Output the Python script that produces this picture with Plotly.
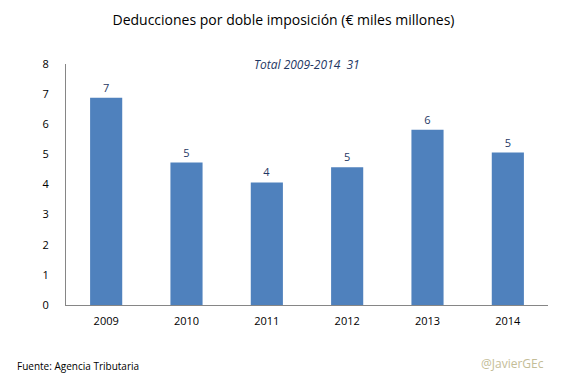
import plotly.graph_objects as go

years = ["2009", "2010", "2011", "2012", "2013", "2014"]
values = [6.88, 4.73, 4.07, 4.57, 5.82, 5.06]
labels = ["7", "5", "4", "5", "6", "5"]
y_ticks = [0, 1, 2, 3, 4, 5, 6, 7, 8]

FONT = "Open Sans, Liberation Sans, sans-serif"

fig = go.Figure(go.Bar(
    x=years, y=values, text=labels, textposition="outside",
    textfont=dict(color="#1F3864", size=11, family=FONT),
    marker=dict(color="#4F81BD", line=dict(width=0)),
    width=0.4, cliponaxis=False,
))

fig.update_layout(
    width=567, height=378,
    margin=dict(l=66, r=19, t=64, b=73, autoexpand=False),
    paper_bgcolor="white", plot_bgcolor="white",
    showlegend=False,
    title=dict(text="Deducciones por doble imposición (€ miles millones)",
               x=0.5, xanchor="center", y=0.947, yanchor="middle",
               font=dict(size=14, color="#000000", family=FONT)),
    font=dict(family=FONT, size=11, color="#000000"),
)
fig.update_xaxes(showline=True, linecolor="#868686", linewidth=1, ticks="",
                 showgrid=False, tickfont=dict(size=11), ticklabelstandoff=6,
                 automargin=False)
fig.update_yaxes(range=[0, 8], tickvals=y_ticks, showline=True, linecolor="#868686",
                 linewidth=1, ticks="", showgrid=False, zeroline=False,
                 tickfont=dict(size=11), ticklabelstandoff=14, automargin=False)

fig.add_annotation(text="<i>Total 2009-2014  31</i>", xref="paper", yref="paper",
                   x=0.5, y=1.0, xanchor="center", yanchor="middle", showarrow=False,
                   font=dict(size=12, color="#1F3864", family=FONT))
fig.add_annotation(text="Fuente: Agencia Tributaria", xref="paper", yref="paper",
                   x=0, y=0, xanchor="left", yanchor="middle", showarrow=False,
                   xshift=-51, yshift=-61, font=dict(size=10, color="#000000", family=FONT))
fig.add_annotation(text="@JavierGEc", xref="paper", yref="paper",
                   x=1.0, y=0, xanchor="right", yanchor="middle", showarrow=False,
                   xshift=-2, yshift=-58, font=dict(size=12, color="#C4BD97", family=FONT))

fig.write_html("out.html", config={"displayModeBar": False},
               post_script="document.body.style.margin='0';")
